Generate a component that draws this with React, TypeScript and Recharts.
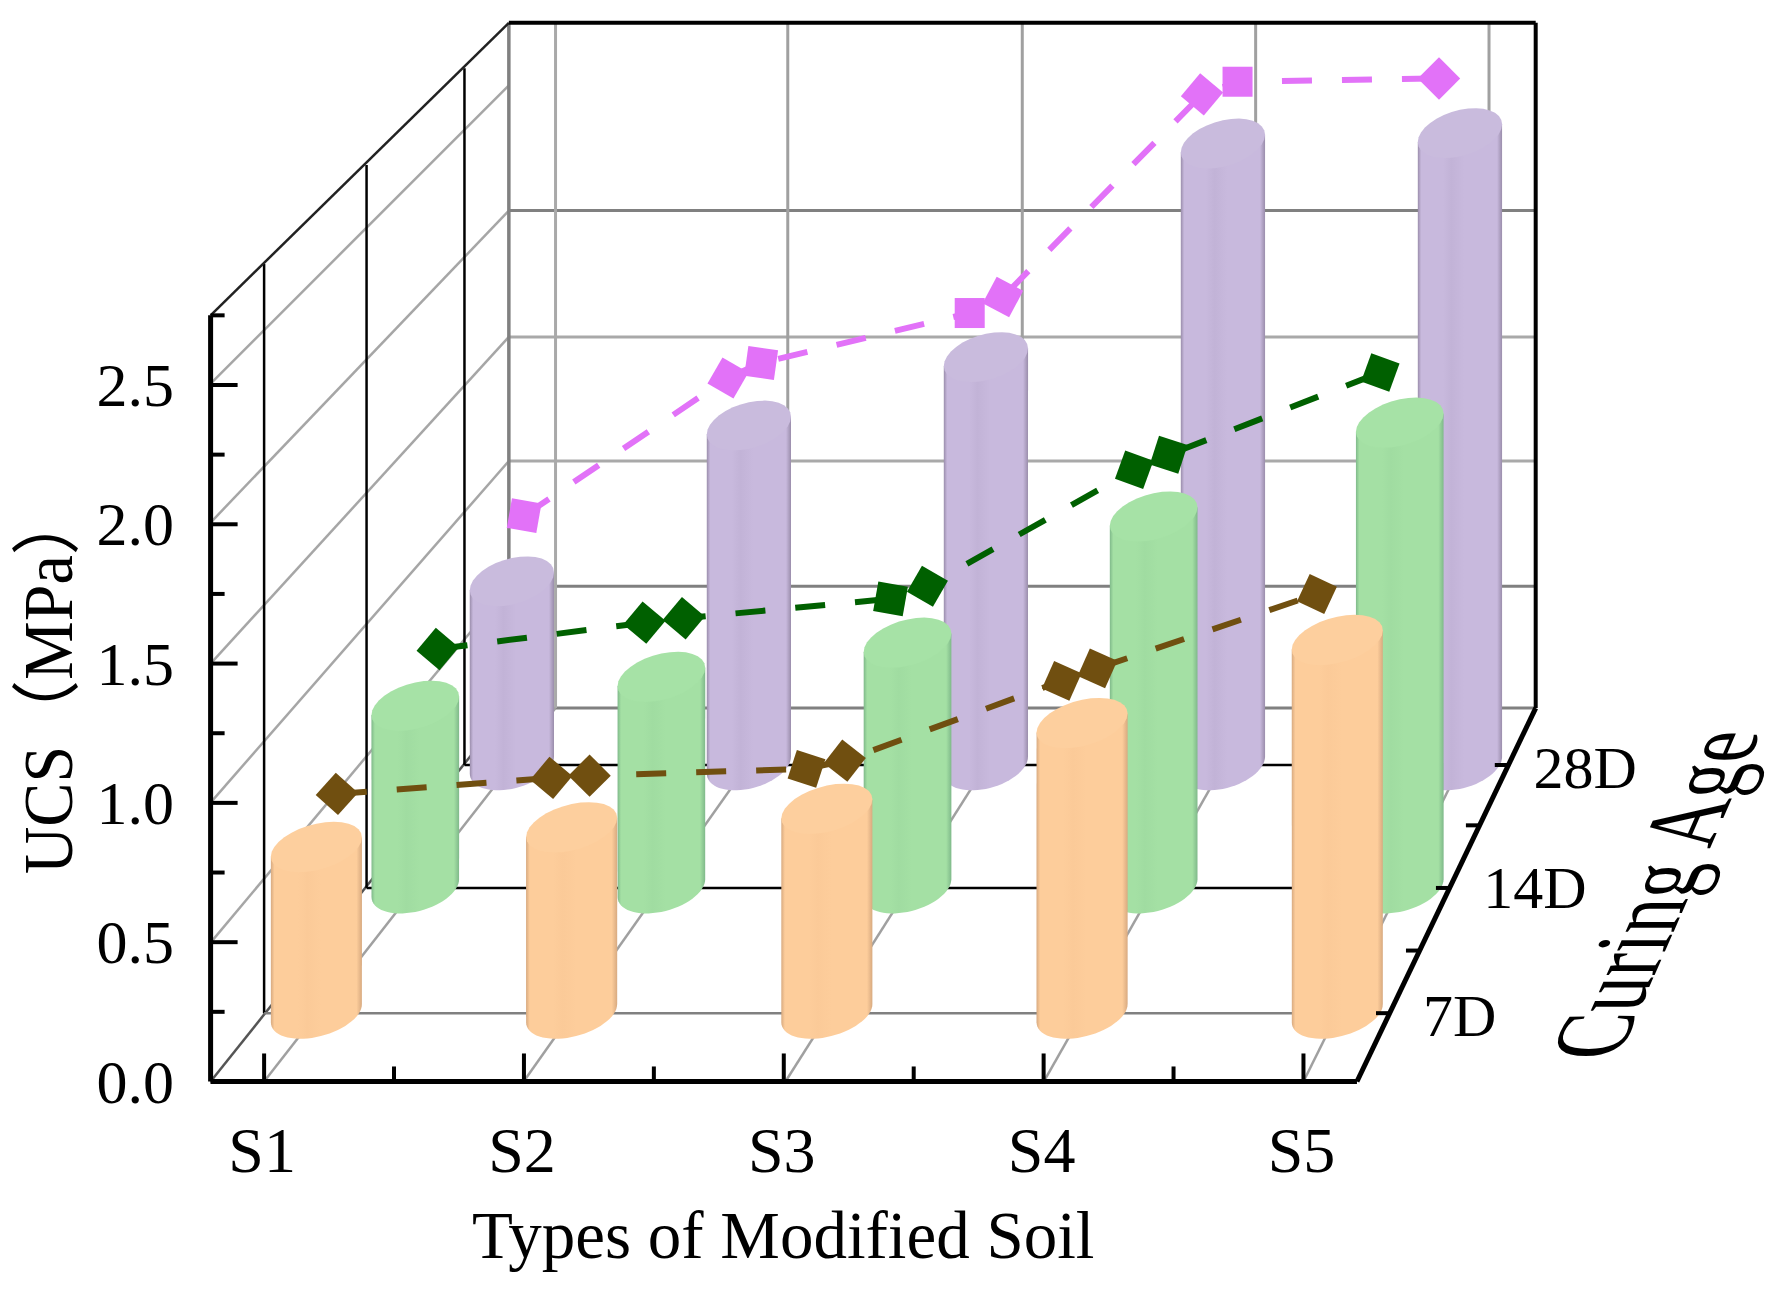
import { Bar, ComposedChart, Customized, Line, XAxis, YAxis } from 'recharts';

const categories = ['S1', 'S2', 'S3', 'S4', 'S5'];
const depthLabels = ['7D', '14D', '28D'];
const yTicks = [0, 0.25, 0.5, 0.75, 1, 1.25, 1.5, 1.75, 2, 2.25, 2.5, 2.75];
const xTicks = [1, 1.5, 2, 2.5, 3, 3.5, 4, 4.5, 5];

// cylinder heights
const bars7 = [0.61, 0.682, 0.75, 1.065, 1.37];
const bars14 = [0.693, 0.803, 0.933, 1.413, 1.77];
const bars28 = [0.725, 1.34, 1.61, 2.453, 2.494];

// dashed lines: the x is in category units because each inner category has two points
const line7X = [1.08, 1.92, 2.07, 2.92, 3.07, 3.92, 4.06, 4.92];
const line7Y = [0.805, 0.864, 0.872, 0.897, 0.927, 1.22, 1.266, 1.539];
const line14X = [1.09, 1.93, 2.09, 2.93, 3.08, 3.92, 4.06, 4.92];
const line14Y = [0.909, 1.009, 1.026, 1.1, 1.148, 1.591, 1.648, 1.961];
const line28X = [1.05, 1.91, 2.05, 2.93, 3.07, 3.91, 4.06, 4.91];
const line28Y = [0.984, 1.528, 1.587, 1.784, 1.847, 2.647, 2.697, 2.71];

const angles7 = [42, 40, 45, 18, 38, 24, 24, 25];
const angles14 = [40, 40, 40, 10, 30, 20, 18, 20];
const angles28 = [10, 30, 8, 0, 28, 40, 0, 45];

const W = 1785;
const H = 1294;
const S = W / 1568;
const FONT = '"Liberation Serif", "Noto Sans CJK SC", serif';
const yMax = 2.75;

const planes = {
  d7: { first: 278, step: 224.2, floor: 890, top: 232, barWidth: 80 },
  d14: { first: 365, step: 216.2, floor: 780, top: 145, barWidth: 77 },
  d28: { first: 450, step: 208.2, floor: 672, top: 60, barWidth: 74 },
};

const orange = { id: 'cylOrange', main: '#fdcd9b', cap: '#fdcf9e', dark: '#d8aa80', mid: '#fbca98' };
const green = { id: 'cylGreen', main: '#a4e0a4', cap: '#a6e2a6', dark: '#7fb98a', mid: '#a0dca1' };
const purple = { id: 'cylPurple', main: '#c8b9dd', cap: '#c9bbdd', dark: '#9a8dab', mid: '#c2b3d7' };

function planeMargin(plane: typeof planes.d7) {
  return {
    left: (plane.first - plane.step / 2) * S,
    right: W - (plane.first + 4.5 * plane.step) * S,
    top: plane.top * S,
    bottom: H - plane.floor * S,
  };
}

function arcPoints(cx: number, cy: number, half: number, ry: number, slope: number, from: number, to: number) {
  const pts: string[] = [];
  for (let i = 0; i <= 32; i++) {
    const t = from + ((to - from) * i) / 32;
    const px = cx + half * Math.cos(t);
    const py = cy + ry * Math.sin(t) - slope * half * Math.cos(t);
    pts.push(`${px.toFixed(1)} ${py.toFixed(1)}`);
  }
  return pts;
}

function Cylinder(props: any, color: typeof orange) {
  const { x, y, width, height, index } = props;
  const cx = x + width / 2;
  const half = width / 2;
  const floorY = y + height;
  const topRy = 20.5 * S;
  const bottomRy = 21 * S;
  const bottom = arcPoints(cx, floorY, half, bottomRy, 0.2, Math.PI, 0);
  const leftTop = `${x} ${y + 0.21 * half}`;
  const rightTop = `${x + width} ${y - 0.21 * half}`;
  const body = `M${leftTop} L${bottom.join(' L')} L${rightTop} Z`;
  const cap = `M${arcPoints(cx, y, half, topRy, 0.21, 0, Math.PI * 2).join(' L')} Z`;
  return (
    <g key={`${color.id}-${index}`}>
      <linearGradient id={color.id} x1="0" x2="1" y1="0" y2="0">
        <stop offset="0" stopColor={color.dark} />
        <stop offset="0.04" stopColor={color.main} />
        <stop offset="0.3" stopColor={color.main} />
        <stop offset="0.4" stopColor={color.mid} />
        <stop offset="0.55" stopColor={color.main} />
        <stop offset="0.94" stopColor={color.main} />
        <stop offset="1" stopColor={color.dark} />
      </linearGradient>
      <path d={body} fill={`url(#${color.id})`} />
      <path d={cap} fill={color.cap} />
    </g>
  );
}

function BarLayer({ values, plane, color }: { values: number[]; plane: typeof planes.d7; color: typeof orange }) {
  const data = categories.map((name, i) => ({ name, value: values[i] }));
  return (
    <div style={layerStyle}>
      <ComposedChart width={W} height={H} data={data} margin={planeMargin(plane)}>
        <XAxis dataKey="name" hide />
        <YAxis hide domain={[0, yMax]} />
        <Bar
          dataKey="value"
          barSize={plane.barWidth * S}
          isAnimationActive={false}
          shape={(p: any) => Cylinder(p, color)}
        />
      </ComposedChart>
    </div>
  );
}

function LineLayer({ xs, ys, angles, plane, color, width }: { xs: number[]; ys: number[]; angles: number[]; plane: typeof planes.d7; color: string; width: number }) {
  const data = xs.map((x, i) => ({ x, value: ys[i] }));
  const side = 30;
  const renderMarker = (p: any) => (
    <rect
      key={p.index}
      x={p.cx - side / 2}
      y={p.cy - side / 2}
      width={side}
      height={side}
      fill={color}
      transform={`rotate(${angles[p.index]} ${p.cx} ${p.cy})`}
    />
  );
  return (
    <div style={layerStyle}>
      <ComposedChart width={W} height={H} data={data} margin={planeMargin(plane)}>
        <XAxis dataKey="x" type="number" hide domain={[0.5, 5.5]} />
        <YAxis hide domain={[0, yMax]} />
        <Line
          dataKey="value"
          stroke={color}
          strokeWidth={width}
          strokeDasharray="30 30"
          dot={renderMarker}
          activeDot={false}
          isAnimationActive={false}
        />
      </ComposedChart>
    </div>
  );
}

const layerStyle = { position: 'absolute', left: 0, top: 0, width: W, height: H } as const;

function seg(x1: number, y1: number, x2: number, y2: number, stroke: string, width: number, key: string) {
  return <line key={key} x1={x1 * S} y1={y1 * S} x2={x2 * S} y2={y2 * S} stroke={stroke} strokeWidth={width} />;
}

// walls and floor of the box, drawn behind everything
function Frame() {
  const gray = '#808080';
  const light = '#a9a9a9';
  const backY = [515, 405, 296, 185];
  const backColors = [gray, light, light, gray];
  const backX = [488, 692, 898, 1103, 1308];
  const frontX = [232, 460, 690, 917, 1145];
  const frontY = [828, 705, 583, 459, 337];
  const wallBackY = [515, 405, 296, 185, 75];
  return (
    <g>
      {backY.map((y, i) => seg(447, y, 1349, y, backColors[i], 3, `h${i}`))}
      {seg(447, 622, 1349, 622, gray, 3, 'backFloor')}
      {backX.map((x, i) => seg(x, 20, x, 622, i === 0 ? light : '#a0a0a0', 3, `v${i}`))}
      {frontY.map((y, i) => seg(185, y, 447, wallBackY[i], '#a6a6a6', 2.5, `w${i}`))}
      {seg(185, 950, 447, 622, '#555555', 2.5, 'wallFloor')}
      {seg(232, 232, 232, 890, '#000000', 2.5, 'd7')}
      {seg(322, 145, 322, 780, '#000000', 2.5, 'd14')}
      {seg(408, 60, 408, 672, '#000000', 2.5, 'd28')}
      {seg(232, 890, 1222, 890, gray, 2.5, 'f7')}
      {seg(322, 780, 1274, 780, '#000000', 2.5, 'f14')}
      {seg(408, 672, 1325, 672, '#000000', 2.5, 'f28')}
      {frontX.map((x, i) => seg(x, 950, backX[i], 622, '#a0a0a0', 2.5, `o${i}`))}
      {seg(447, 20, 447, 622, gray, 3.5, 'backLeft')}
      {seg(185, 277, 447, 20, '#222222', 2.5, 'wallTop')}
      {seg(447, 20, 1349, 20, '#000000', 4, 'backTop')}
      {seg(1349, 20, 1349, 622, '#000000', 4, 'backRight')}
    </g>
  );
}

// depth axis on the right edge of the floor and the titles
function Annotations() {
  const depthY = [890, 835, 780, 725, 672];
  const edgeX = (y: number) => 1192 + ((950 - y) / 328) * 157;
  const labelX = [1250, 1303, 1347];
  const labelY = [910, 798, 692];
  return (
    <g fontFamily={FONT} fill="#000000">
      {seg(1192, 950, 1349, 622, '#000000', 5, 'edge')}
      {depthY.map((y) => seg(edgeX(y) - 12, y, edgeX(y), y, '#000000', 4, `dt${y}`))}
      {depthLabels.map((label, i) => (
        <text key={label} x={labelX[i] * S} y={labelY[i] * S} fontSize={60}>
          {label}
        </text>
      ))}
      <text x={688 * S} y={1105 * S} fontSize={67} textAnchor="middle">
        Types of Modified Soil
      </text>
      <text transform={`translate(${63 * S} ${768 * S}) rotate(-90) scale(1 1.05)`} fontSize={66}>
        UCS（MPa）
      </text>
      <text transform="matrix(0.515 -1.178 1.75 0 1618 1059)" fontSize={60}>
        Curing Age
      </text>
    </g>
  );
}

function AxisLayer() {
  const axisLeft = 185 * S;
  const axisBottom = 950 * S;
  const stepX = 228.25;
  const data = categories.map((name, i) => ({ x: i + 1, name, value: bars7[i] }));

  const renderYTick = (p: any) => {
    const v = p.payload.value;
    const major = Math.round(v * 100) % 50 === 0;
    return (
      <g key={v}>
        <line x1={axisLeft} x2={axisLeft + (major ? 27 : 14)} y1={p.y} y2={p.y} stroke="#000000" strokeWidth={4} />
        {major && (
          <text x={174} y={p.y} dy="0.34em" textAnchor="end" fontFamily={FONT} fontSize={62} fill="#000000">
            {v.toFixed(1)}
          </text>
        )}
      </g>
    );
  };

  const renderXTick = (p: any) => {
    const v = p.payload.value;
    const major = Number.isInteger(v);
    return (
      <g key={v}>
        <line x1={p.x} x2={p.x} y1={axisBottom} y2={axisBottom - (major ? 28 : 15)} stroke="#000000" strokeWidth={4} />
        {major && (
          <text x={p.x - 2} y={1172} textAnchor="middle" fontFamily={FONT} fontSize={64} fill="#000000">
            {categories[v - 1]}
          </text>
        )}
      </g>
    );
  };

  return (
    <div style={layerStyle}>
      <ComposedChart
        width={W}
        height={H}
        data={data}
        margin={{ left: axisLeft - 100, right: W - 1192 * S, top: 277 * S, bottom: H - axisBottom - 100 }}
      >
        <XAxis
          dataKey="x"
          type="number"
          domain={[1 - 47 / stepX, 5 + 47 / stepX]}
          ticks={xTicks}
          interval={0}
          height={100}
          tick={renderXTick}
          tickLine={false}
          axisLine={{ stroke: '#000000', strokeWidth: 5 }}
        />
        <YAxis
          type="number"
          domain={[0, yMax]}
          ticks={yTicks}
          interval={0}
          width={100}
          tick={renderYTick}
          tickLine={false}
          axisLine={{ stroke: '#000000', strokeWidth: 5 }}
        />
        <Line dataKey="value" stroke="none" dot={false} activeDot={false} isAnimationActive={false} />
        <Customized component={Annotations} />
      </ComposedChart>
    </div>
  );
}

function FrameLayer() {
  const data = categories.map((name) => ({ name }));
  return (
    <div style={layerStyle}>
      <ComposedChart width={W} height={H} data={data}>
        <Customized component={Frame} />
      </ComposedChart>
    </div>
  );
}

export default function App() {
  return (
    <div style={{ position: 'absolute', left: 0, top: 0, width: W, height: H, background: '#ffffff' }}>
      <FrameLayer />
      <BarLayer values={bars28} plane={planes.d28} color={purple} />
      <BarLayer values={bars14} plane={planes.d14} color={green} />
      <BarLayer values={bars7} plane={planes.d7} color={orange} />
      <LineLayer xs={line28X} ys={line28Y} angles={angles28} plane={planes.d28} color="#e272f8" width={6} />
      <LineLayer xs={line14X} ys={line14Y} angles={angles14} plane={planes.d14} color="#006000" width={6} />
      <LineLayer xs={line7X} ys={line7Y} angles={angles7} plane={planes.d7} color="#704f10" width={6} />
      <AxisLayer />
    </div>
  );
}
